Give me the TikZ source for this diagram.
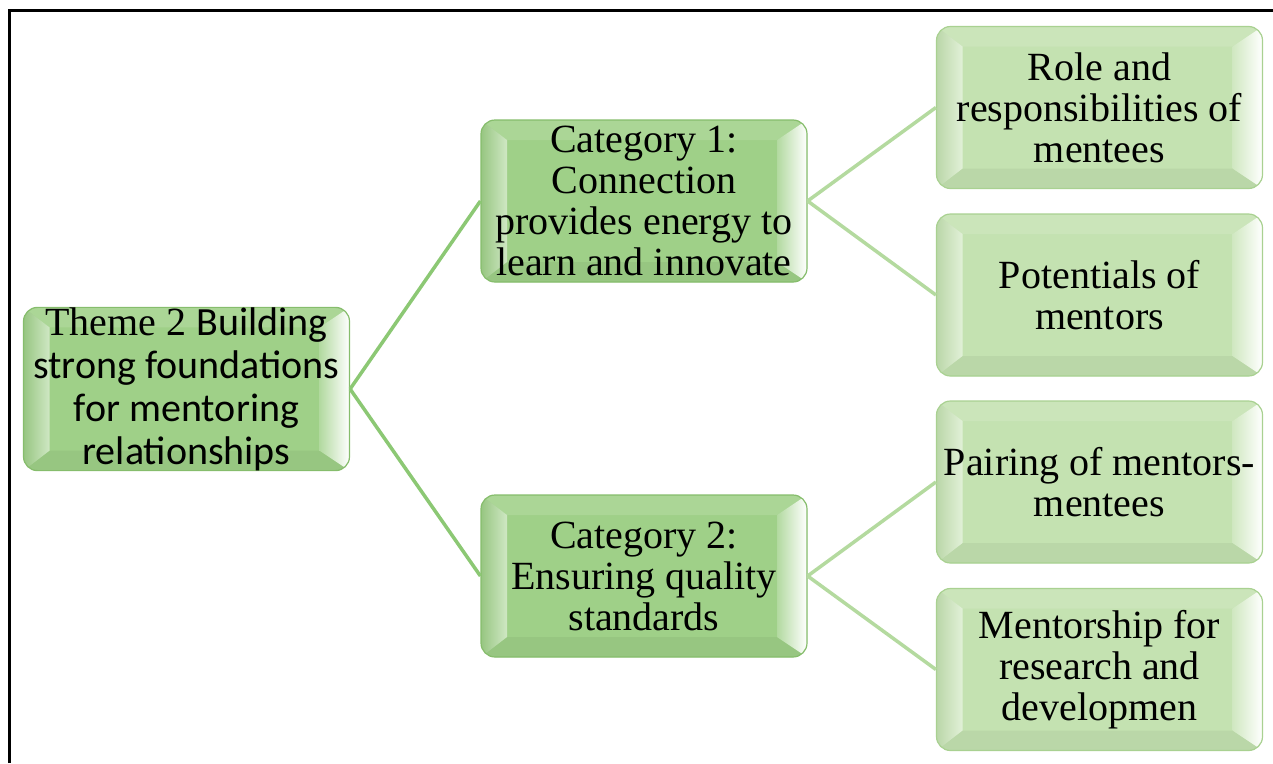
\documentclass[tikz,border=0pt]{standalone}
\usepackage{fontspec}
\setmainfont{Liberation Serif}
\newfontfamily\calibri{Carlito}
\usetikzlibrary{calc}
\definecolor{darkfill}{HTML}{9FD088}
\definecolor{darkedge}{HTML}{86BD6C}
\definecolor{lightfill}{HTML}{C4E2B1}
\definecolor{lightedge}{HTML}{A9D191}
\definecolor{linkdark}{HTML}{8CC874}
\definecolor{linklight}{HTML}{B4DA9F}
\tikzset{
  bevelbox/.style={rounded corners=14pt, minimum width=326pt, minimum height=162pt,
    inner sep=0pt, align=center, fill=#1fill, draw=#1edge, line width=1.2pt,
    font=\fontsize{40}{41}\selectfont,
    path picture={
      \begin{scope}[sharp corners]
      \coordinate (bnw) at (path picture bounding box.north west);
      \coordinate (bsw) at (path picture bounding box.south west);
      \coordinate (bne) at (path picture bounding box.north east);
      \coordinate (bse) at (path picture bounding box.south east);
      \fill[#1fill!88!white] (bnw) -- ($(bnw)+(26,20)$) -- ($(bne)+(-30,20)$) -- (bne) -- cycle;
      \fill[#1fill!95!black] (bsw) -- ($(bsw)+(26,-20)$) -- ($(bse)+(-30,-20)$) -- (bse) -- cycle;
      \shade[left color=#1fill!95!black, right color=#1fill!50!white] (bnw) -- ($(bnw)+(26,20)$) -- ($(bsw)+(26,-20)$) -- (bsw) -- cycle;
      \shade[left color=#1fill!80!white, right color=white] (bne) -- ($(bne)+(-30,20)$) -- ($(bse)+(-30,-20)$) -- (bse) -- cycle;
      \end{scope}
    }},
  linkone/.style={draw=linkdark, line width=3.5pt},
  linktwo/.style={draw=linklight, line width=3.5pt}
}
\begin{document}
\begin{tikzpicture}[x=1pt,y=-1pt]
\useasboundingbox (0,0) rectangle (1273,763);
\draw[line width=2.5pt] (9.5,763) -- (9.5,10.5) -- (1273,10.5);
\node[bevelbox=dark] (theme) at (186.5,389) {Theme 2 {\calibri Building}\\[2pt]{\calibri strong foundations}\\[2pt]{\calibri for mentoring}\\[2pt]{\calibri relationships}};
\node[bevelbox=dark] (cat1) at (644,201) {Category 1:\\Connection\\provides energy to\\learn and innovate};
\node[bevelbox=dark] (cat2) at (644,576) {Category 2:\\Ensuring quality\\standards};
\node[bevelbox=light] (role) at (1099.5,107.5) {Role and\\responsibilities of\\mentees};
\node[bevelbox=light] (pot) at (1099.5,295) {Potentials of\\mentors};
\node[bevelbox=light] (pair) at (1099.5,482) {Pairing of mentors-\\mentees};
\node[bevelbox=light] (ment) at (1099.5,669.5) {Mentorship for\\research and\\developmen};
\draw[linkone] (theme.east) -- (cat1.west);
\draw[linkone] (theme.east) -- (cat2.west);
\draw[linktwo] (cat1.east) -- (role.west);
\draw[linktwo] (cat1.east) -- (pot.west);
\draw[linktwo] (cat2.east) -- (pair.west);
\draw[linktwo] (cat2.east) -- (ment.west);
\end{tikzpicture}
\end{document}
